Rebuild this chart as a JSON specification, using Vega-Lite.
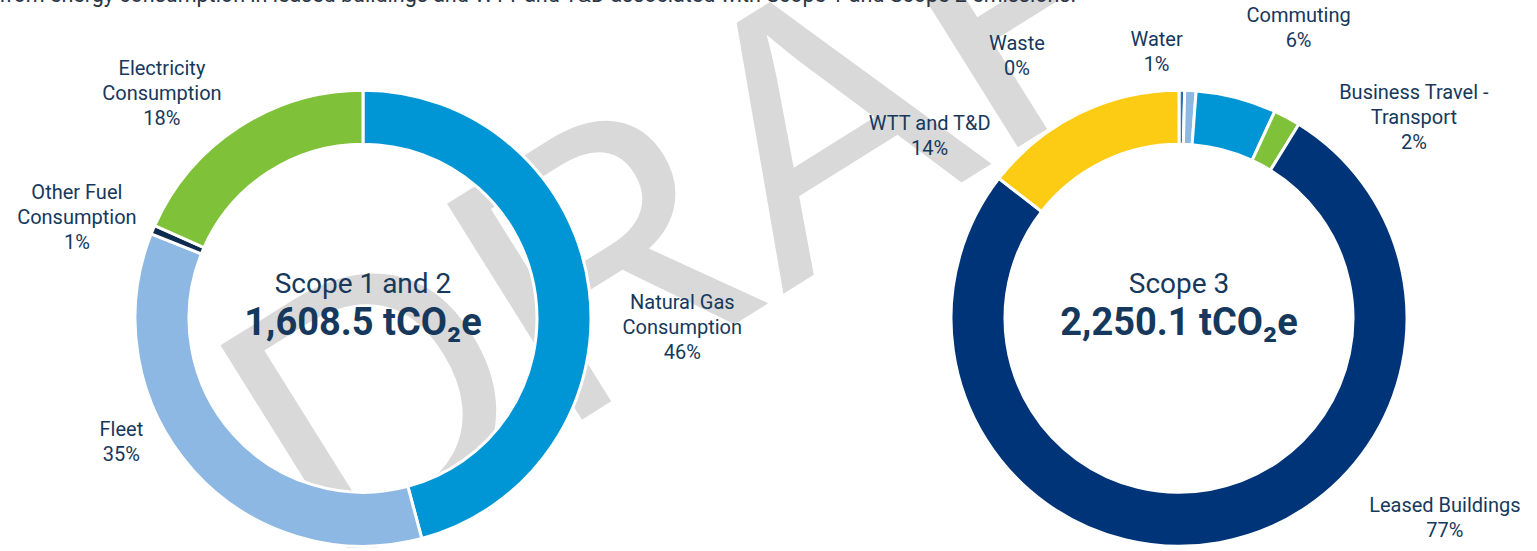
{
  "$schema": "https://vega.github.io/schema/vega-lite/v6.json",
  "width": 1537,
  "height": 551,
  "autosize": {"type": "fit", "contains": "padding"},
  "padding": 0,
  "background": "white",
  "config": {
    "view": {"stroke": null},
    "font": "Roboto",
    "text": {"font": "Roboto", "fontSize": 20, "fill": "#15385C", "lineBreak": "\n", "lineHeight": 25, "align": "center", "baseline": "middle"}
  },
  "data": {
    "values": [
      {"scope": "Scope 1 and 2", "i": 1, "cat": "Natural Gas Consumption", "label": "Natural Gas\nConsumption", "value": 737.5},
      {"scope": "Scope 1 and 2", "i": 2, "cat": "Fleet", "label": "Fleet", "value": 566},
      {"scope": "Scope 1 and 2", "i": 3, "cat": "Other Fuel Consumption", "label": "Other Fuel\nConsumption", "value": 10},
      {"scope": "Scope 1 and 2", "i": 4, "cat": "Electricity Consumption", "label": "Electricity\nConsumption", "value": 295},
      {"scope": "Scope 3", "i": 1, "cat": "Waste", "label": "Waste", "value": 9},
      {"scope": "Scope 3", "i": 2, "cat": "Water", "label": "Water", "value": 18},
      {"scope": "Scope 3", "i": 3, "cat": "Commuting", "label": "Commuting", "value": 128.3},
      {"scope": "Scope 3", "i": 4, "cat": "Business Travel - Transport", "label": "Business Travel -\nTransport", "value": 42.8},
      {"scope": "Scope 3", "i": 5, "cat": "Leased Buildings", "label": "Leased Buildings", "value": 1725.9},
      {"scope": "Scope 3", "i": 6, "cat": "WTT and T&D", "label": "WTT and T&D", "value": 326.1}
    ]
  },
  "encoding": {
    "x": {"field": "scope", "type": "nominal", "scale": {"type": "point", "padding": 0.44179, "align": 0.50347}, "axis": null},
    "y": {"datum": "c", "type": "nominal", "scale": {"type": "point", "align": 0.58076}, "axis": null}
  },
  "layer": [
    {
      "data": {"values": [{"scope": "Scope 1 and 2"}]},
      "mark": {"type": "text", "text": "DRAFT", "font": "Liberation Sans", "fontSize": 370, "angle": -32, "fill": "#D9D9D9", "align": "center", "baseline": "alphabetic", "dx": 451, "dy": 202, "clip": true}
    },
    {
      "data": {"values": [{"scope": "Scope 1 and 2"}]},
      "mark": {"type": "text", "text": "from energy consumption in leased buildings and WTT and T&D associated with Scope 1 and Scope 2 emissions.", "font": "Roboto", "fontSize": 21.5, "fill": "#2A3546", "align": "left", "baseline": "alphabetic", "dx": -364, "dy": -316, "clip": true}
    },
    {
      "transform": [
        {"filter": "datum.scope === 'Scope 1 and 2'"},
        {"joinaggregate": [{"op": "sum", "field": "value", "as": "total"}]},
        {"stack": "value", "groupby": [], "sort": [{"field": "i", "order": "ascending"}], "as": ["v0", "v1"]},
        {"calculate": "(datum.v0 + datum.v1) / 2", "as": "mid"},
        {"calculate": "datum.label + '\\n' + format(datum.value / datum.total, '.0%')", "as": "lbl"}
      ],
      "layer": [
        {
          "mark": {"type": "arc", "outerRadius": 228, "innerRadius": 174, "stroke": "white", "strokeWidth": 3},
          "encoding": {
            "theta": {"field": "value", "type": "quantitative", "stack": true},
            "order": {"field": "i", "type": "quantitative"},
            "color": {"field": "cat", "type": "nominal", "legend": null,
              "scale": {"domain": ["Natural Gas Consumption", "Fleet", "Other Fuel Consumption", "Electricity Consumption", "Waste", "Water", "Commuting", "Business Travel - Transport", "Leased Buildings", "WTT and T&D"],
                        "range": ["#0096D6", "#8DB8E3", "#0D2B4E", "#80C13A", "#2E6FB5", "#8DB8E3", "#0096D6", "#80C13A", "#003478", "#FCCB14"]}}
          }
        },
        {
          "transform": [
            {"aggregate": [{"op": "sum", "field": "value", "as": "sumv"}], "groupby": ["scope"]},
            {"calculate": "format(datum.sumv, ',.1f') + ' tCO₂e'", "as": "t"}
          ],
          "layer": [
            {"mark": {"type": "text", "fontSize": 28, "baseline": "alphabetic", "dy": -25}, "encoding": {"text": {"field": "scope"}}},
            {"mark": {"type": "text", "fontSize": 38, "fontWeight": "bold", "baseline": "alphabetic", "dy": 17}, "encoding": {"text": {"field": "t"}}}
          ]
        },
        {
          "transform": [{"filter": "datum.cat === 'Natural Gas Consumption'"}],
          "mark": {"type": "text", "radius": 319, "dx": 3, "dy": 26},
          "encoding": {"theta": {"field": "mid", "type": "quantitative", "stack": null}, "text": {"field": "lbl"}}
        },
        {
          "transform": [{"filter": "datum.cat === 'Fleet'"}],
          "mark": {"type": "text", "radius": 271, "dx": -39, "dy": -68},
          "encoding": {"theta": {"field": "mid", "type": "quantitative", "stack": null}, "text": {"field": "lbl"}}
        },
        {
          "transform": [{"filter": "datum.cat === 'Other Fuel Consumption'"}],
          "mark": {"type": "text", "radius": 304, "dx": -6, "dy": -7},
          "encoding": {"theta": {"field": "mid", "type": "quantitative", "stack": null}, "text": {"field": "lbl"}}
        },
        {
          "transform": [{"filter": "datum.cat === 'Electricity Consumption'"}],
          "mark": {"type": "text", "radius": 303, "dx": -36, "dy": 5},
          "encoding": {"theta": {"field": "mid", "type": "quantitative", "stack": null}, "text": {"field": "lbl"}}
        }
      ]
    },
    {
      "transform": [
        {"filter": "datum.scope === 'Scope 3'"},
        {"joinaggregate": [{"op": "sum", "field": "value", "as": "total"}]},
        {"stack": "value", "groupby": [], "sort": [{"field": "i", "order": "ascending"}], "as": ["v0", "v1"]},
        {"calculate": "(datum.v0 + datum.v1) / 2", "as": "mid"},
        {"calculate": "datum.label + '\\n' + format(datum.value / datum.total, '.0%')", "as": "lbl"}
      ],
      "layer": [
        {
          "mark": {"type": "arc", "outerRadius": 228, "innerRadius": 174, "stroke": "white", "strokeWidth": 3},
          "encoding": {
            "theta": {"field": "value", "type": "quantitative", "stack": true},
            "order": {"field": "i", "type": "quantitative"},
            "color": {"field": "cat", "type": "nominal", "legend": null}
          }
        },
        {
          "transform": [
            {"aggregate": [{"op": "sum", "field": "value", "as": "sumv"}], "groupby": ["scope"]},
            {"calculate": "format(datum.sumv, ',.1f') + ' tCO₂e'", "as": "t"}
          ],
          "layer": [
            {"mark": {"type": "text", "fontSize": 28, "baseline": "alphabetic", "dy": -25}, "encoding": {"text": {"field": "scope"}}},
            {"mark": {"type": "text", "fontSize": 38, "fontWeight": "bold", "baseline": "alphabetic", "dy": 17}, "encoding": {"text": {"field": "t"}}}
          ]
        },
        {
          "transform": [{"filter": "datum.cat === 'Waste'"}],
          "mark": {"type": "text", "radius": 310, "dx": -166, "dy": 36},
          "encoding": {"theta": {"field": "mid", "type": "quantitative", "stack": null}, "text": {"field": "lbl"}}
        },
        {
          "transform": [{"filter": "datum.cat === 'Water'"}],
          "mark": {"type": "text", "radius": 270, "dx": -36, "dy": -9},
          "encoding": {"theta": {"field": "mid", "type": "quantitative", "stack": null}, "text": {"field": "lbl"}}
        },
        {
          "transform": [{"filter": "datum.cat === 'Commuting'"}],
          "mark": {"type": "text", "radius": 316, "dx": 40, "dy": 4},
          "encoding": {"theta": {"field": "mid", "type": "quantitative", "stack": null}, "text": {"field": "lbl"}}
        },
        {
          "transform": [{"filter": "datum.cat === 'Business Travel - Transport'"}],
          "mark": {"type": "text", "radius": 310, "dx": 88, "dy": 48},
          "encoding": {"theta": {"field": "mid", "type": "quantitative", "stack": null}, "text": {"field": "lbl"}}
        },
        {
          "transform": [{"filter": "datum.cat === 'Leased Buildings'"}],
          "mark": {"type": "text", "radius": 331, "dx": 207, "dy": -138},
          "encoding": {"theta": {"field": "mid", "type": "quantitative", "stack": null}, "text": {"field": "lbl"}}
        },
        {
          "transform": [{"filter": "datum.cat === 'WTT and T&D'"}],
          "mark": {"type": "text", "radius": 310, "dx": -113, "dy": 84},
          "encoding": {"theta": {"field": "mid", "type": "quantitative", "stack": null}, "text": {"field": "lbl"}}
        }
      ]
    }
  ],
  "resolve": {"scale": {"theta": "independent"}}
}
